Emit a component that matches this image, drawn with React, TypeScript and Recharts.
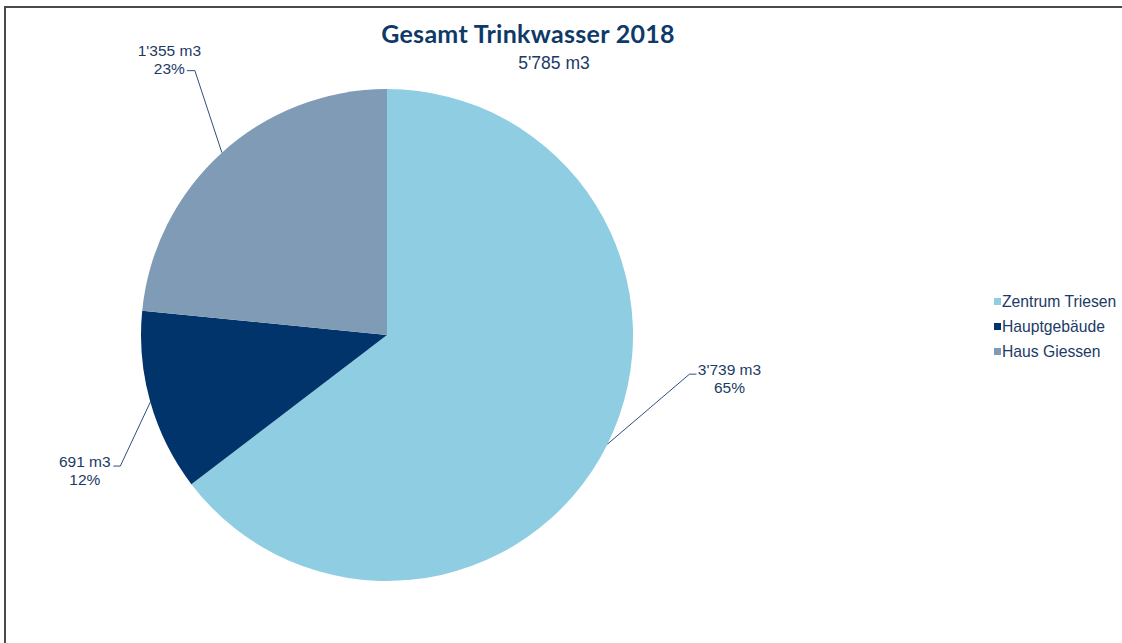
import { Cell, Legend, Pie, PieChart } from "recharts";

const categories = ["Zentrum Triesen", "Hauptgebäude", "Haus Giessen"];
const volumes = [3739, 691, 1355];
const colors = ["#8ECDE2", "#00346A", "#7F9BB6"];
const titleText = "Gesamt Trinkwasser 2018";
const unit = "m3";

// Excel-style label placement: elbow offset from slice edge, tail, text block
const labelLayout = [
  { dx: 82, dy: -70, tail: 7, textDx: 40, base1: 1, base2: 19 },
  { dx: -30, dy: 64, tail: -7, textDx: -35.5, base1: 1, base2: 19 },
  { dx: -27, dy: -82, tail: -8, textDx: -25.5, base1: -15, base2: 3 },
];

const textColor = "#1B3A66";
const RAD = Math.PI / 180;

const fmt = (n: number) => String(n).replace(/\B(?=(\d{3})+(?!\d))/g, "'");

const data = categories.map((name, i) => ({ name, value: volumes[i] }));
const total = volumes.reduce((a, b) => a + b, 0);

function renderLabel(props: any) {
  const { cx, cy, midAngle, outerRadius, index, value, percent } = props;
  const lay = labelLayout[index];
  const ex = cx + outerRadius * Math.cos(-midAngle * RAD);
  const ey = cy + outerRadius * Math.sin(-midAngle * RAD);
  const bx = ex + lay.dx;
  const by = ey + lay.dy;
  const tx = bx + lay.textDx;
  return (
    <g key={`lbl-${index}`}>
      <polyline
        points={`${ex},${ey} ${bx},${by} ${bx + lay.tail},${by}`}
        fill="none"
        stroke="#2E4F7E"
        strokeWidth={1}
      />
      <text
        x={tx}
        y={by + lay.base1}
        textAnchor="middle"
        fill={textColor}
        fontFamily="'Liberation Sans', Arial, sans-serif"
        fontSize={15.5}
      >
        {`${fmt(value)} ${unit}`}
      </text>
      <text
        x={tx}
        y={by + lay.base2}
        textAnchor="middle"
        fill={textColor}
        fontFamily="'Liberation Sans', Arial, sans-serif"
        fontSize={15.5}
      >
        {`${Math.round(percent * 100)}%`}
      </text>
    </g>
  );
}

// legend keeps the series order of the data
function renderLegend() {
  return (
    <div style={{ fontFamily: "'Liberation Sans', Arial, sans-serif", fontSize: 15.7, color: textColor }}>
      {categories.map((name, i) => (
        <div key={name} style={{ display: "flex", alignItems: "center", height: 25, whiteSpace: "nowrap" }}>
          <span style={{ display: "inline-block", width: 7, height: 7, background: colors[i], marginRight: 1 }} />
          <span>{name}</span>
        </div>
      ))}
    </div>
  );
}

export default function App() {
  return (
    <div
      style={{
        position: "absolute",
        left: 0,
        top: 0,
        width: 1122,
        height: 643,
        overflow: "hidden",
        background: "#fff",
      }}
    >
      <div
        style={{
          position: "absolute",
          left: 4,
          top: 6,
          width: 1300,
          height: 900,
          border: "2px solid #4a4a4a",
        }}
      />
      <PieChart width={1122} height={643} margin={{ top: 0, right: 0, bottom: 0, left: 0 }}>
        <Pie
          data={data}
          dataKey="value"
          nameKey="name"
          cx={387}
          cy={335}
          outerRadius={246}
          startAngle={90}
          endAngle={-270}
          stroke="none"
          label={renderLabel}
          labelLine={false}
          isAnimationActive={false}
        >
          {data.map((d, i) => (
            <Cell key={d.name} fill={colors[i]} stroke="none" />
          ))}
        </Pie>
        <Legend
          layout="vertical"
          content={renderLegend}
          wrapperStyle={{ position: "absolute", left: 994, top: 289, width: 130 }}
        />
      </PieChart>
      <svg
        width={1122}
        height={100}
        style={{ position: "absolute", left: 0, top: 0, pointerEvents: "none" }}
      >
        <text
          x={528}
          y={43}
          textAnchor="middle"
          fill="#0E3A6A"
          fontFamily="Lato, 'Noto Sans', sans-serif"
          fontWeight={700}
          fontSize={25}
          letterSpacing={0.3}
        >
          {titleText}
        </text>
        <text
          x={554}
          y={69}
          textAnchor="middle"
          fill={textColor}
          fontFamily="'Liberation Sans', Arial, sans-serif"
          fontSize={17.5}
        >
          {`${fmt(total)} ${unit}`}
        </text>
      </svg>
    </div>
  );
}
